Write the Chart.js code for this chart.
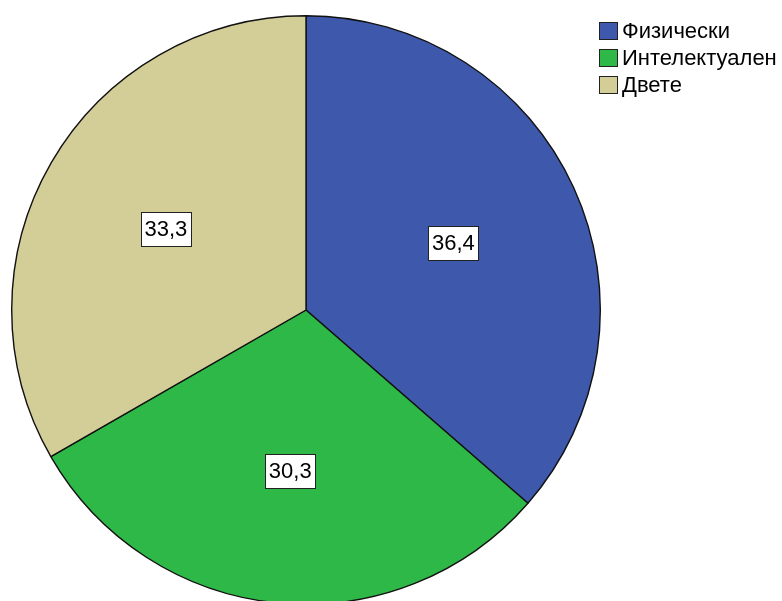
<!DOCTYPE html>
<html>
<head>
<meta charset="utf-8">
<script src="https://cdn.jsdelivr.net/npm/chart.js@4"></script>
<style>
    html, body { margin: 0; padding: 0; background: #fff; overflow: hidden; }
    #wrap { width: 782px; height: 620px; }
</style>
</head>
<body>
<div id="wrap"><canvas id="pieChart" width="782" height="620"></canvas></div>
<script>
const categories = ['Физически', 'Интелектуален', 'Двете'];
const percents = [36.4, 30.3, 33.3];
const sliceColors = ['#3e58ac', '#2eb848', '#d3ce97'];

const fmt = v => v.toFixed(1).replace('.', ',');

// value boxes inside each slice
const sliceLabels = {
    id: 'sliceLabels',
    afterDatasetsDraw(chart) {
        const ctx = chart.ctx;
        const arcs = chart.getDatasetMeta(0).data;
        ctx.save();
        ctx.font = '22px "Liberation Sans", Arial, sans-serif';
        ctx.textAlign = 'center';
        ctx.textBaseline = 'middle';
        arcs.forEach((arc, i) => {
            const p = arc.getProps(['x', 'y', 'startAngle', 'endAngle', 'outerRadius'], true);
            const mid = (p.startAngle + p.endAngle) / 2;
            const r = p.outerRadius * 0.55;
            const cx = p.x + Math.cos(mid) * r;
            const cy = p.y + Math.sin(mid) * r;
            const text = fmt(chart.data.datasets[0].data[i]);
            const w = Math.round(ctx.measureText(text).width) + 7;
            const h = 34;
            const bx = Math.round(cx - w / 2) + 0.5;
            const by = Math.round(cy - h / 2) + 0.5;
            ctx.fillStyle = '#fff';
            ctx.fillRect(bx, by, w, h);
            ctx.strokeStyle = '#222';
            ctx.lineWidth = 1;
            ctx.strokeRect(bx, by, w, h);
            ctx.fillStyle = '#000';
            ctx.fillText(text, cx, cy + 1);
        });
        ctx.restore();
    }
};

// legend block in the upper right corner
const cornerLegend = {
    id: 'cornerLegend',
    afterDraw(chart) {
        const ctx = chart.ctx;
        ctx.save();
        ctx.font = '22px "Liberation Sans", Arial, sans-serif';
        ctx.textBaseline = 'middle';
        ctx.textAlign = 'left';
        categories.forEach((name, i) => {
            const cy = 31 + i * 27;
            ctx.fillStyle = sliceColors[i];
            ctx.fillRect(599, cy - 9, 19, 18);
            ctx.strokeStyle = '#222';
            ctx.lineWidth = 1;
            ctx.strokeRect(599.5, cy - 8.5, 18, 17);
            ctx.fillStyle = '#000';
            ctx.fillText(name, 622, cy + 1);
        });
        ctx.restore();
    }
};

document.addEventListener('DOMContentLoaded', () => {
    const ctx = document.getElementById('pieChart').getContext('2d');
    new Chart(ctx, {
        type: 'pie',
        data: {
            labels: categories,
            datasets: [{
                data: percents,
                backgroundColor: sliceColors,
                borderColor: '#111',
                borderWidth: 1.4
            }]
        },
        options: {
            responsive: false,
            animation: false,
            layout: { padding: { left: 11, right: 181, top: 15, bottom: 15 } },
            plugins: {
                legend: { display: false },
                tooltip: { enabled: false }
            }
        },
        plugins: [sliceLabels, cornerLegend]
    });
});
</script>
</body>
</html>
